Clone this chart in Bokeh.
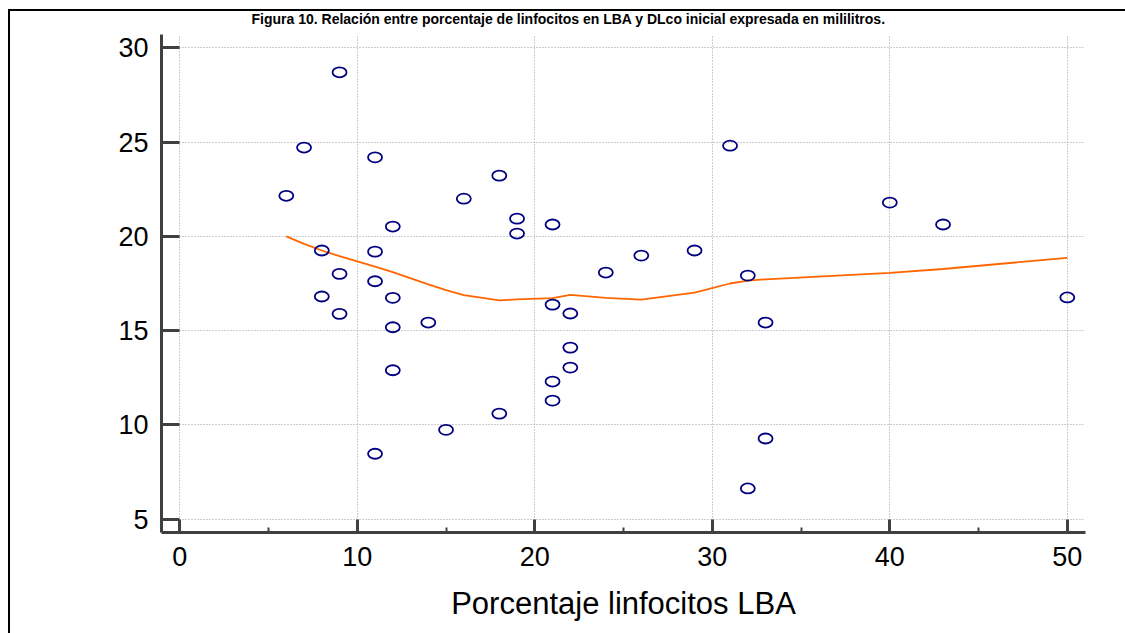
from bokeh.plotting import figure
from bokeh.models import Range1d, SingleIntervalTicker, InlineStyleSheet
from bokeh.embed import file_html
from bokeh.resources import INLINE

# --- data ---
linfocitos = [6, 7, 9, 8, 9, 8, 9, 11, 11, 11, 12, 12, 12, 12, 11, 14, 15, 16, 18, 18,
              19, 19, 21, 21, 21, 21, 22, 22, 22, 24, 26, 29, 31, 32, 33, 33, 32, 40, 43, 50]
dlco = [22.15, 24.71, 28.70, 19.25, 18.01, 16.81, 15.89, 24.19, 19.19, 17.62, 20.52, 16.74,
        15.18, 12.90, 8.47, 15.43, 9.74, 22.00, 23.22, 10.60, 20.94, 20.15, 20.63, 16.38,
        12.30, 11.29, 15.91, 14.10, 13.04, 18.08, 18.98, 19.25, 24.81, 17.92, 15.43, 9.28,
        6.63, 21.79, 20.63, 16.76]

loess_x = [6, 7, 8, 9, 11, 12, 14, 15, 16, 18, 19, 21, 22, 24, 26, 29, 31, 32, 33, 40, 43, 50]
loess_y = [20.0, 19.6, 19.25, 18.95, 18.4, 18.1, 17.45, 17.15, 16.88, 16.6, 16.66, 16.72,
           16.9, 16.74, 16.65, 17.02, 17.5, 17.65, 17.72, 18.06, 18.27, 18.86]

x_ticks_interval = 10
y_ticks_interval = 5
title_text = "Figura 10. Relación entre porcentaje de linfocitos en LBA y DLco inicial expresada en mililitros."
x_label = "Porcentaje linfocitos LBA"

FONT = "Liberation Sans"
AXIS_COLOR = "#404040"
W, H = 1125, 633

# thin black box line (top and left sides) framing the figure, as in the source image
box_css = InlineStyleSheet(css="""
:host { position: relative; }
:host::after {
  content: "";
  position: absolute;
  left: 8px; top: 9px; right: 0px; bottom: 0px;
  border-top: 2px solid #000000;
  border-left: 2px solid #000000;
  pointer-events: none;
  z-index: 10;
}
""")

p = figure(width=W, height=H,
           x_range=Range1d(-1.031, 51.025), y_range=Range1d(4.295, 30.705),
           output_backend="svg", toolbar_location=None,
           min_border_left=161, min_border_right=40,
           min_border_top=34, min_border_bottom=101,
           title=title_text, stylesheets=[box_css])

p.title.text_font = FONT
p.title.text_font_style = "bold"
p.title.text_font_size = "14px"
p.title.text_color = "black"
p.title.align = "left"
p.title.offset = 90
p.title.standoff = 16

p.outline_line_color = None
p.background_fill_color = "white"
p.border_fill_color = "white"

# grid
for g in (p.xgrid, p.ygrid):
    g.grid_line_color = "#9a9a9a"
    g.grid_line_dash = "1 2"
    g.grid_line_width = 1
p.xgrid.ticker = SingleIntervalTicker(interval=x_ticks_interval)
p.ygrid.ticker = SingleIntervalTicker(interval=y_ticks_interval)

# x axis
xa = p.xaxis[0]
xa.ticker = SingleIntervalTicker(interval=x_ticks_interval, num_minor_ticks=2)
xa.axis_label = x_label
xa.axis_label_text_font = FONT
xa.axis_label_text_font_size = "31px"
xa.axis_label_text_font_style = "normal"
xa.axis_label_text_color = "black"
xa.axis_label_standoff = 17
xa.major_label_text_font = FONT
xa.major_label_text_font_size = "27px"
xa.major_label_text_color = "black"
xa.major_label_standoff = 14
xa.axis_line_color = AXIS_COLOR
xa.axis_line_width = 3
xa.major_tick_line_color = AXIS_COLOR
xa.major_tick_line_width = 3
xa.major_tick_in = 13
xa.major_tick_out = 0
xa.minor_tick_line_color = AXIS_COLOR
xa.minor_tick_line_width = 2
xa.minor_tick_in = 5
xa.minor_tick_out = 0

# y axis
ya = p.yaxis[0]
ya.ticker = SingleIntervalTicker(interval=y_ticks_interval, num_minor_ticks=0)
ya.major_label_text_font = FONT
ya.major_label_text_font_size = "27px"
ya.major_label_text_color = "black"
ya.major_label_standoff = 13
ya.axis_line_color = AXIS_COLOR
ya.axis_line_width = 3
ya.major_tick_line_color = AXIS_COLOR
ya.major_tick_line_width = 3
ya.major_tick_in = 18
ya.major_tick_out = 0
ya.minor_tick_line_color = None

# loess curve
p.line(loess_x, loess_y, line_color="#ff6600", line_width=1.8)

# points (open ellipses, as in the horizontally stretched original)
p.ellipse(x=linfocitos, y=dlco, width=14, height=10,
          width_units="screen", height_units="screen",
          fill_color=None, line_color="#000080", line_width=1.8)

open("out.html", "w").write(file_html(p, INLINE))
